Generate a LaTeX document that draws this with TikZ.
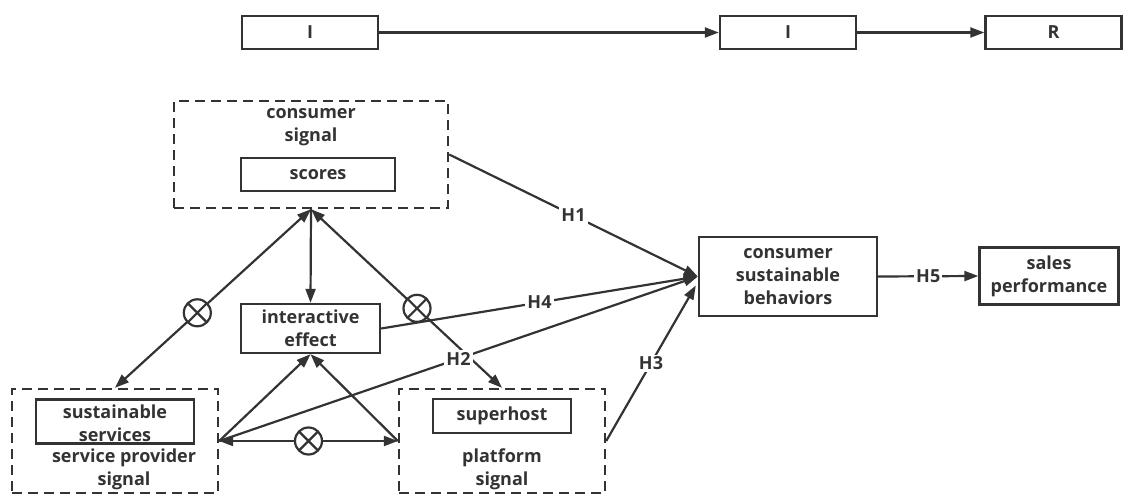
\documentclass[tikz,border=0pt]{standalone}
\usepackage{fontspec}
\setmainfont{Open Sans}
\usetikzlibrary{arrows.meta,calc}
\definecolor{ink}{HTML}{333333}
\begin{document}
\begin{tikzpicture}[x=1pt,y=-1pt,line width=2.2pt,color=ink,
  >={Triangle[length=14pt,width=10pt]},
  every node/.style={text=ink,font=\bfseries\fontsize{18}{23}\selectfont,align=center,inner sep=0pt},
  box/.style={draw=ink,line width=2.4pt,fill=white},
  dbox/.style={draw=ink,line width=2.4pt,dash pattern=on 10pt off 6pt},
  lbl/.style={fill=white,inner sep=2pt},
  otimes/.style={circle,draw=ink,fill=white,line width=2.2pt,minimum size=27pt,
    path picture={\draw[-,ink,line width=2.2pt] (path picture bounding box.north west) -- (path picture bounding box.south east)
      (path picture bounding box.north east) -- (path picture bounding box.south west);}}]
\useasboundingbox (0,0) rectangle (1125,495);
% top row
\node[box,minimum width=136pt,minimum height=33pt] (I1) at (310,32.5) {I};
\node[box,minimum width=136pt,minimum height=33pt] (I2) at (788,32.5) {I};
\node[box,minimum width=136pt,minimum height=33pt] (R) at (1053.5,32.5) {R};
\draw[->] (I1) -- (I2);
\draw[->] (I2) -- (R);
% dashed groups
\node[dbox,minimum width=274pt,minimum height=107pt] (CS) at (311,154.5) {};
\node (cstxt) at (311,127) {consumer\\signal};
\node[box,minimum width=154pt,minimum height=33pt] (SC) at (318,174.5) {scores};
\node[dbox,minimum width=206pt,minimum height=104pt] (SP) at (115,441) {};
\node[box,minimum width=158pt,minimum height=44pt] (SS) at (115,421.5) {};
\node (sstxt) at (115,423) {sustainable\\services};
\node (sptxt) at (124,469) {service provider\\signal};
\node[dbox,minimum width=206pt,minimum height=104pt] (PL) at (502,441) {};
\node[box,minimum width=138pt,minimum height=34pt] (SH) at (502,416) {superhost};
\node (pltxt) at (502,469) {platform\\signal};
% other boxes
\node[box,minimum width=139pt,minimum height=49pt] (IE) at (310.5,328.5) {interactive\\effect};
\node[box,minimum width=178pt,minimum height=79pt] (CSB) at (788,276.5) {consumer\\sustainable\\behaviors};
\node[box,minimum width=139pt,minimum height=57pt] (SA) at (1049,276) {sales\\performance};
% connectors
\draw[<->] (CS.south) -- (SP.north) node[pos=0.58,otimes] {};
\draw[<->] (CS.south) -- (PL.north) node[pos=0.555,otimes] {};
\draw[->] (CS.south) -- (IE.north);
\draw[->] (CS.east) -- node[lbl] {H1} (CSB.west);
\draw[->] (IE.east) -- node[lbl] {H4} (CSB.west);
\draw[->] (SP.east) -- node[lbl] {H2} (CSB.west);
\draw[->] (PL.east) -- node[lbl] {H3} ($(CSB.west)+(-2,9)$);
\draw[->] (CSB.east) -- node[lbl] {H5} (SA.west);
\draw[->] (SP.east) -- (IE.south);
\draw[->] (PL.west) -- (IE.south);
\draw[<->] (SP.east) -- (PL.west) node[midway,otimes] {};
\end{tikzpicture}
\end{document}
